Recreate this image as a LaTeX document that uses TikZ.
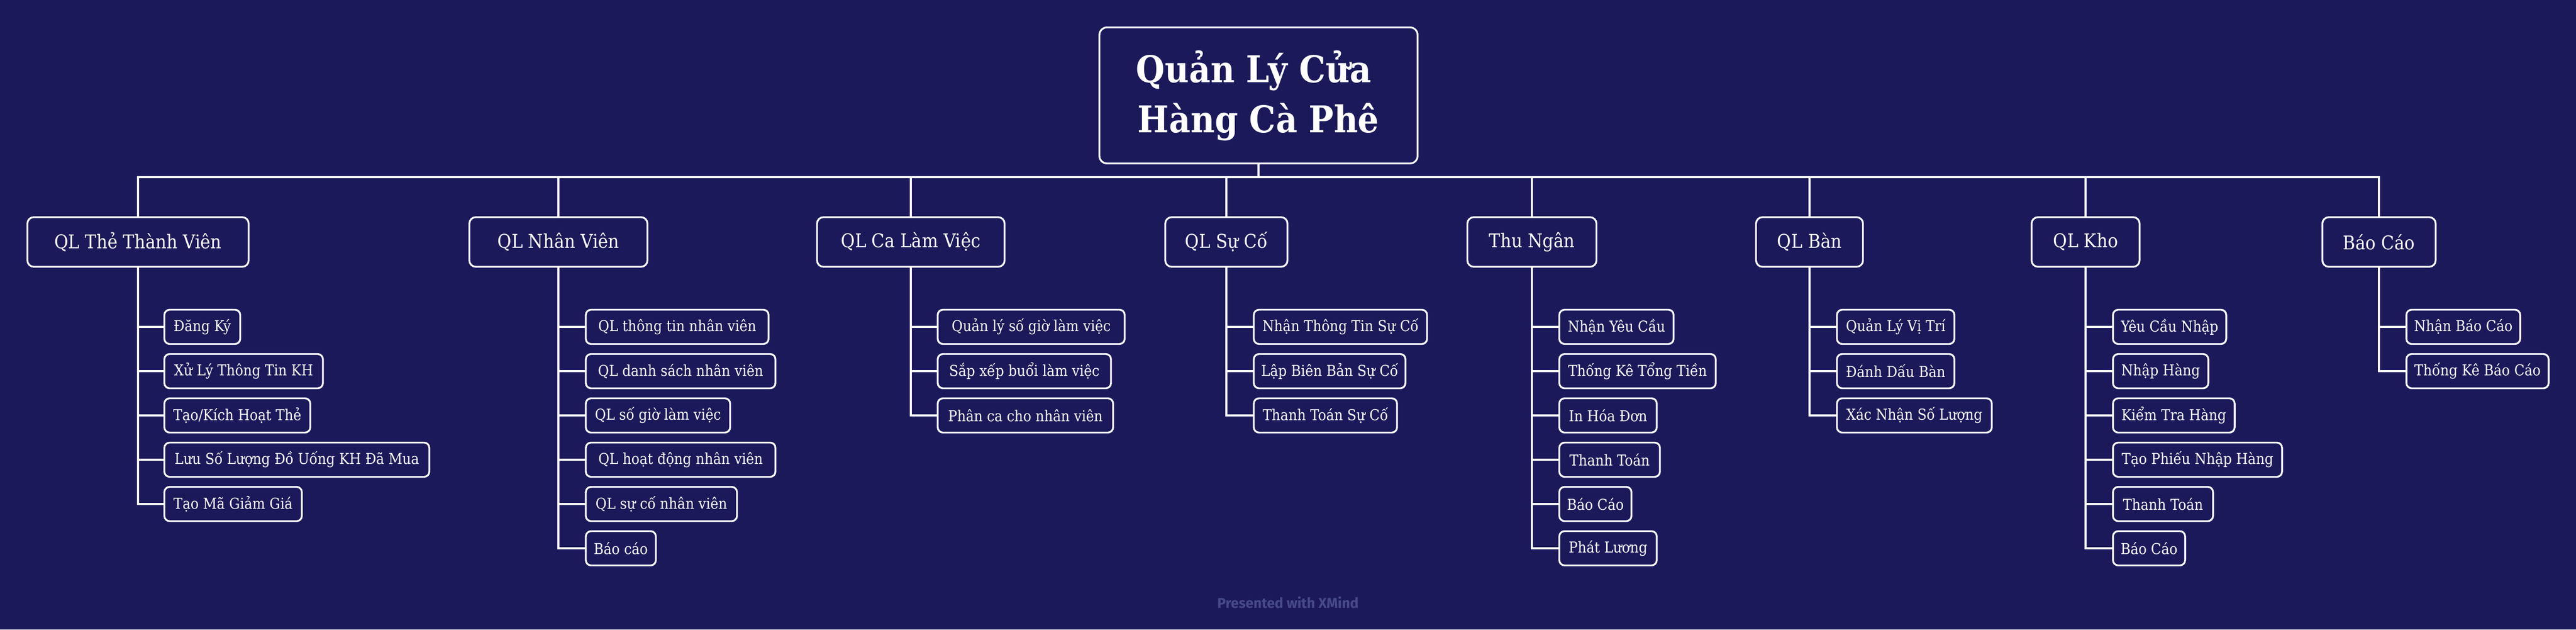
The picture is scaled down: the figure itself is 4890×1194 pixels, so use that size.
\documentclass[tikz,border=0pt]{standalone}
\usepackage{fontspec}
\setmainfont{DejaVu Serif Condensed}
\newfontfamily\footfont{Fira Sans}
\definecolor{bgc}{HTML}{1B195A}
\definecolor{footc}{HTML}{464A86}
\begin{document}
\begin{tikzpicture}[x=1pt,y=-1pt,
  every node/.style={inner sep=0pt,outer sep=0pt},
  rootbox/.style={draw=white,line width=3.4pt,rounded corners=14pt,fill=bgc,text=white,
    minimum width=604pt,minimum height=258pt,align=center,
    font=\fontsize{70}{95}\selectfont\bfseries},
  mainbox/.style={draw=white,line width=3.4pt,rounded corners=12pt,fill=bgc,text=white,
    minimum height=94pt,font=\fontsize{36}{42}\selectfont},
  leafbox/.style={draw=white,line width=3.4pt,rounded corners=10pt,fill=bgc,text=white,
    minimum height=65pt,anchor=west,font=\fontsize{28.5}{33}\selectfont},
  conn/.style={draw=white,line width=3.3pt}]
\fill[bgc] (0,0) rectangle (4890,1194);
\useasboundingbox (0,0) rectangle (4890,1194);

\node[rootbox] (root) at (2389,181) {Quản Lý Cửa\hspace*{18pt}\\Hàng Cà Phê};

\node[mainbox,minimum width=420pt] (m1) at (262,459) {QL Thẻ Thành Viên};
\node[mainbox,minimum width=338pt] (m2) at (1060,459) {QL Nhân Viên};
\node[mainbox,minimum width=356pt] (m3) at (1729,459) {QL Ca Làm Việc};
\node[mainbox,minimum width=232pt] (m4) at (2328,459) {QL Sự Cố};
\node[mainbox,minimum width=245pt] (m5) at (2908,459) {Thu Ngân};
\node[mainbox,minimum width=203pt] (m6) at (3435,459) {QL Bàn};
\node[mainbox,minimum width=205pt] (m7) at (3959,459) {QL Kho};
\node[mainbox,minimum width=215pt] (m8) at (4516,459) {Báo Cáo};

% leaves m1
\node[leafbox,minimum width=144pt] (a1) at (312,620) {Đăng Ký};
\node[leafbox,minimum width=301pt] (a2) at (312,704) {Xử Lý Thông Tin KH};
\node[leafbox,minimum width=277pt] (a3) at (312,788) {Tạo/Kích Hoạt Thẻ};
\node[leafbox,minimum width=503pt] (a4) at (312,872) {Lưu Số Lượng Đồ Uống KH Đã Mua};
\node[leafbox,minimum width=261pt] (a5) at (312,956) {Tạo Mã Giảm Giá};
% leaves m2
\node[leafbox,minimum width=347pt] (b1) at (1112,620) {QL thông tin nhân viên};
\node[leafbox,minimum width=360pt] (b2) at (1112,704) {QL danh sách nhân viên};
\node[leafbox,minimum width=274pt] (b3) at (1112,788) {QL số giờ làm việc};
\node[leafbox,minimum width=360pt] (b4) at (1112,872) {QL hoạt động nhân viên};
\node[leafbox,minimum width=287pt] (b5) at (1112,956) {QL sự cố nhân viên};
\node[leafbox,minimum width=133pt] (b6) at (1112,1040) {Báo cáo};
% leaves m3
\node[leafbox,minimum width=355pt] (c1) at (1780,620) {Quản lý số giờ làm việc};
\node[leafbox,minimum width=329pt] (c2) at (1780,704) {Sắp xếp buổi làm việc};
\node[leafbox,minimum width=333pt] (c3) at (1780,788) {Phân ca cho nhân viên};
% leaves m4
\node[leafbox,minimum width=329pt] (d1) at (2380,620) {Nhận Thông Tin Sự Cố};
\node[leafbox,minimum width=288pt] (d2) at (2380,704) {Lập Biên Bản Sự Cố};
\node[leafbox,minimum width=272pt] (d3) at (2380,788) {Thanh Toán Sự Cố};
% leaves m5
\node[leafbox,minimum width=217pt] (e1) at (2960,620) {Nhận Yêu Cầu};
\node[leafbox,minimum width=297pt] (e2) at (2960,704) {Thống Kê Tổng Tiền};
\node[leafbox,minimum width=185pt] (e3) at (2960,788) {In Hóa Đơn};
\node[leafbox,minimum width=191pt] (e4) at (2960,872) {Thanh Toán};
\node[leafbox,minimum width=137pt] (e5) at (2960,956) {Báo Cáo};
\node[leafbox,minimum width=185pt] (e6) at (2960,1040) {Phát Lương};
% leaves m6
\node[leafbox,minimum width=223pt] (f1) at (3487,620) {Quản Lý Vị Trí};
\node[leafbox,minimum width=223pt] (f2) at (3487,704) {Đánh Dấu Bàn};
\node[leafbox,minimum width=294pt] (f3) at (3487,788) {Xác Nhận Số Lượng};
% leaves m7
\node[leafbox,minimum width=215pt] (g1) at (4011,620) {Yêu Cầu Nhập};
\node[leafbox,minimum width=181pt] (g2) at (4011,704) {Nhập Hàng};
\node[leafbox,minimum width=231pt] (g3) at (4011,788) {Kiểm Tra Hàng};
\node[leafbox,minimum width=321pt] (g4) at (4011,872) {Tạo Phiếu Nhập Hàng};
\node[leafbox,minimum width=190pt] (g5) at (4011,956) {Thanh Toán};
\node[leafbox,minimum width=137pt] (g6) at (4011,1040) {Báo Cáo};
% leaves m8
\node[leafbox,minimum width=216pt] (h1) at (4568,620) {Nhận Báo Cáo};
\node[leafbox,minimum width=270pt] (h2) at (4568,704) {Thống Kê Báo Cáo};

% bus
\coordinate (bus) at (2389,336);
\draw[conn] (root.south) -- (bus);
\draw[conn] (m1.north) -- (m1.north |- bus) -- (m8.north |- bus) -- (m8.north);
\foreach \m in {m2,m3,m4,m5,m6,m7} \draw[conn] (\m.north) -- (\m.north |- bus);

% trunks and stubs
\draw[conn] (m1.south) -- (m1.south |- a5.west) -- (a5.west);
\foreach \n in {a1,a2,a3,a4} \draw[conn] (m1.south |- \n.west) -- (\n.west);
\draw[conn] (m2.south) -- (m2.south |- b6.west) -- (b6.west);
\foreach \n in {b1,b2,b3,b4,b5} \draw[conn] (m2.south |- \n.west) -- (\n.west);
\draw[conn] (m3.south) -- (m3.south |- c3.west) -- (c3.west);
\foreach \n in {c1,c2} \draw[conn] (m3.south |- \n.west) -- (\n.west);
\draw[conn] (m4.south) -- (m4.south |- d3.west) -- (d3.west);
\foreach \n in {d1,d2} \draw[conn] (m4.south |- \n.west) -- (\n.west);
\draw[conn] (m5.south) -- (m5.south |- e6.west) -- (e6.west);
\foreach \n in {e1,e2,e3,e4,e5} \draw[conn] (m5.south |- \n.west) -- (\n.west);
\draw[conn] (m6.south) -- (m6.south |- f3.west) -- (f3.west);
\foreach \n in {f1,f2} \draw[conn] (m6.south |- \n.west) -- (\n.west);
\draw[conn] (m7.south) -- (m7.south |- g6.west) -- (g6.west);
\foreach \n in {g1,g2,g3,g4,g5} \draw[conn] (m7.south |- \n.west) -- (\n.west);
\draw[conn] (m8.south) -- (m8.south |- h2.west) -- (h2.west);
\draw[conn] (m8.south |- h1.west) -- (h1.west);

\node[text=footc,font=\footfont\bfseries\fontsize{27}{32}\selectfont] (foot) at (2445,1143) {Presented with XMind};
\end{tikzpicture}
\end{document}
